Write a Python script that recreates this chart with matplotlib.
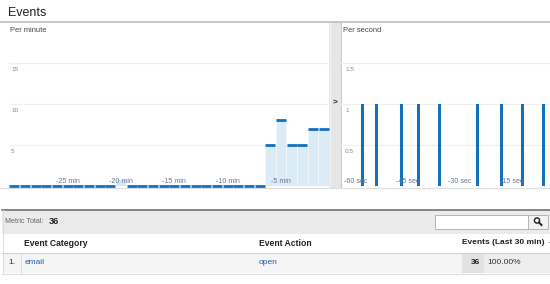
import matplotlib
matplotlib.use('Agg')
import matplotlib.pyplot as plt
from matplotlib.patches import Rectangle, Circle

plt.rcParams['font.family'] = ['Liberation Sans', 'DejaVu Sans']

# 每分钟事件数（最近30分钟）
minute_pos = [-30, -29, -28, -27, -26, -25, -24, -23, -22, -21,
              -20, -19, -18, -17, -16, -15, -14, -13, -12, -11,
              -10, -9, -8, -7, -6, -5, -4, -3, -2, -1]
minute_vals = [0, 0, 0, 0, 0, 0, 0, 0, 0, 0,
               0, 0, 0, 0, 0, 0, 0, 0, 0, 0,
               0, 0, 0, 0, 5, 8, 5, 5, 7, 7]
hover_minute = -20
minute_ticks = [-25, -20, -15, -10, -5]
minute_grid = [5, 10, 15]

# 每秒事件数
sec_pos = [-58, -54, -47, -42, -36, -25, -18, -12, -6]
sec_vals = [1, 1, 1, 1, 1, 1, 1, 1, 1]
sec_ticks = [-60, -45, -30, -15]
sec_grid = [0.5, 1, 1.5]

# 表格
metric_total = 36
table_cols = ['Event Category', 'Event Action', 'Events (Last 30 min)']
row_category = 'email'
row_action = 'open'
row_events = 36
row_share = '100.00%'

W, H = 550, 284
fill_c = '#dcecf7'
cap_c = '#1470bd'
grid_c = '#f0f0f0'
lab_c = '#667799'

fig = plt.figure(figsize=(W / 100, H / 100), dpi=100)

# 背景层，像素坐标
bg = fig.add_axes([0, 0, 1, 1])
bg.set_xlim(0, W)
bg.set_ylim(H, 0)
bg.axis('off')

bg.text(8, 13, 'Events', fontsize=9, color='#222222', va='center', ha='left')
bg.plot([0, W], [22, 22], color='#c6c6c6', lw=1.4)
bg.plot([0, W], [187.5, 187.5], color='#dddddd', lw=0.8)

# 中间分隔栏
bg.add_patch(Rectangle((329, 22.5), 12, 165, facecolor='#e6e6e6', edgecolor='none'))
bg.plot([329.5, 329.5], [22.5, 187], color='#f2f2f2', lw=0.8)
bg.plot([340.5, 340.5], [22.5, 187], color='#cccccc', lw=0.8)
bg.text(335, 103, '>', fontsize=6, fontweight='bold', color='#222222', ha='center', va='center')

bg.text(10, 30.5, 'Per minute', fontsize=5.4, color='#444444', va='center')
bg.text(343, 30.5, 'Per second', fontsize=5.4, color='#444444', va='center')

# 表格部分
bg.add_patch(Rectangle((2, 210), W, 24, facecolor='#ebebeb', edgecolor='none'))
bg.plot([2, W], [209.5, 209.5], color='#666666', lw=1.1)
bg.plot([2.5, 2.5], [209.5, 273.5], color='#dddddd', lw=0.7)
bg.text(5, 221.5, 'Metric Total:', fontsize=5.1, color='#666666', va='center')
bg.text(49, 221, str(metric_total), fontsize=6.6, fontweight='bold', color='#222222', va='center')

# 搜索框
bg.add_patch(Rectangle((435, 214.5), 93, 14.5, facecolor='white', edgecolor='#b5b5b5', lw=0.7))
bg.add_patch(Rectangle((528, 214.5), 20, 14.5, facecolor='#f3f3f3', edgecolor='#b5b5b5', lw=0.7))
bg.add_patch(Circle((537, 220.5), 2.6, facecolor='none', edgecolor='#222222', lw=1.0))
bg.plot([539, 541.5], [222.5, 225], color='#222222', lw=1.4)

bg.text(24, 243, table_cols[0], fontsize=6.2, fontweight='bold', color='#222222', va='center')
bg.text(259, 243, table_cols[1], fontsize=6.2, fontweight='bold', color='#222222', va='center')
bg.text(545, 243, table_cols[2], fontsize=6.0, fontweight='bold', color='#222222', va='center', ha='right')
bg.text(548.5, 243, '-', fontsize=6.0, fontweight='bold', color='#222222', va='center', ha='left')
bg.plot([2, W], [252.5, 252.5], color='#d0d0d0', lw=0.8)

bg.add_patch(Rectangle((3, 253), W, 20, facecolor='#f5f5f5', edgecolor='none'))
bg.add_patch(Rectangle((462, 253), 22, 20, facecolor='#e2e2e2', edgecolor='none'))
bg.add_patch(Rectangle((484, 253), W - 484, 20, facecolor='#ededed', edgecolor='none'))
bg.plot([20.5, 20.5], [253, 273], color='#dddddd', lw=0.7)
bg.plot([2, W], [273.5, 273.5], color='#dddddd', lw=0.8)
bg.text(8, 263, '1.', fontsize=6, color='#333333', va='center')
bg.text(25, 263, row_category, fontsize=6, color='#2a5ca8', va='center')
bg.text(259, 263, row_action, fontsize=6, color='#2a5ca8', va='center')
bg.text(480, 263, str(row_events), fontsize=6, fontweight='bold', color='#222222', va='center', ha='right')
bg.text(487, 263, row_share, fontsize=6, color='#333333', va='center')

# 每分钟图
ax1 = fig.add_axes([9 / W, (H - 186) / H, 320 / W, 164 / H])
ax1.set_xlim(-30.5, -0.5)
ax1.set_ylim(0, 20)
ax1.axis('off')
for g in minute_grid:
    ax1.axhline(g, color=grid_c, lw=0.9, zorder=0)
    ax1.annotate(str(g), (0, g), xycoords=('axes fraction', 'data'), xytext=(1.5, -4.5),
                 textcoords='offset points', fontsize=4.6, color='#888888', va='center')
ax1.bar(minute_pos, minute_vals, width=1, color=fill_c, edgecolor='#f4f9fd', linewidth=0.4, zorder=1)
for x, v in zip(minute_pos, minute_vals):
    if x == hover_minute:
        ax1.add_patch(Rectangle((x - 0.5, 0), 1, 0.7, facecolor='#d6e8f5', edgecolor='none', zorder=1))
        continue
    ax1.hlines(v, x - 0.48, x + 0.48, color=cap_c, lw=2.0, zorder=3, clip_on=False)
for t in minute_ticks:
    ax1.text(t, 0.6, '%d min' % t, fontsize=5.1, color=lab_c, ha='center', va='center', zorder=4)

# 每秒图
ax2 = fig.add_axes([341 / W, (H - 186) / H, 209 / W, 164 / H])
ax2.set_xlim(-64.3, -4.1)
ax2.set_ylim(0, 2)
ax2.axis('off')
for g in sec_grid:
    ax2.axhline(g, color=grid_c, lw=0.9, zorder=0)
    ax2.annotate(str(g), (0, g), xycoords=('axes fraction', 'data'), xytext=(3, -4.5),
                 textcoords='offset points', fontsize=4.6, color='#888888', va='center')
ax2.bar(sec_pos, sec_vals, width=0.85, color=cap_c, zorder=2)
for t in sec_ticks:
    ax2.text(t, 0.06, '%d sec' % t, fontsize=5.1, color=lab_c, ha='center', va='center', zorder=4)

fig.savefig('out.png', dpi=100)
